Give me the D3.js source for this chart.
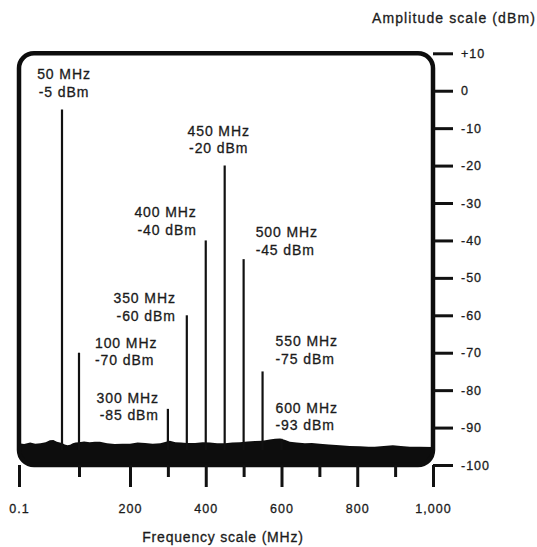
<!DOCTYPE html>
<html lang="en">
<head>
<meta charset="utf-8">
<title>Spectrum analyzer display</title>
<script src="https://d3js.org/d3.v7.min.js"></script>
<style>
  body { margin: 0; background: #fff; }
  text { font-family: "Liberation Sans", Arial, Helvetica, sans-serif; fill: #1b1b1b; stroke: #1b1b1b; stroke-width: 0.3px; }
</style>
</head>
<body>
<script>
// spectral lines: frequency (MHz) and level (dBm)
var lineFreq  = [50, 100, 300, 350, 400, 450, 500, 550, 600];
var lineLevel = [-5, -70, -85, -60, -40, -20, -45, -75, -93];

// noise floor (MHz, dBm)
var noiseFreq  = [0.1, 6, 13, 19, 25, 31, 36, 40, 44, 50, 58, 66, 74, 82, 90, 100, 110, 121, 131, 141, 155, 170, 185, 200,
                  220, 240, 260, 280, 295, 305, 320, 335, 350, 372, 392, 411, 430, 451, 470, 490, 510, 530, 550, 569,
                  583, 596, 610, 622, 640, 662, 680, 701, 725, 754, 780, 807, 830, 846, 870, 894, 915, 939, 965, 1000];
var noiseLevel = [-94.2, -94.4, -94.0, -94.3, -94.2, -93.9, -93.4, -93.3, -93.8, -94.1, -94.5, -94.7, -94.6, -94.2, -94.0, -93.9, -93.7, -93.9, -93.8, -93.8, -94.2, -94.4, -94.3, -94.3,
                  -94.0, -94.1, -94.3, -94.2, -93.8, -93.5, -93.9, -94.0, -94.1, -94.1, -93.9, -94.0, -94.2, -94.2, -94.0, -93.9, -93.7, -93.6, -93.5, -93.2,
                  -93.0, -92.9, -93.3, -93.8, -94.0, -94.2, -94.1, -94.3, -94.5, -94.7, -94.9, -95.0, -95.1, -95.1, -94.9, -94.7, -94.9, -95.1, -95.1, -95.2];

// axis ticks
var majorTicks = [0.1, 200, 400, 600, 800, 1000];
var minorTicks = [100, 300, 500, 700, 900];
var ampTicks   = [10, 0, -10, -20, -30, -40, -50, -60, -70, -80, -90, -100];

// where each line's two-row label sits relative to the line top
var labelLayout = [
  {anchor: "middle", dx: 2,   dy: -30},
  {anchor: "start",  dx: 16,  dy: -5},
  {anchor: "end",    dx: -9,  dy: -6},
  {anchor: "end",    dx: -11, dy: -12},
  {anchor: "end",    dx: -9,  dy: -23},
  {anchor: "middle", dx: -6,  dy: -30},
  {anchor: "start",  dx: 12,  dy: -22},
  {anchor: "start",  dx: 13,  dy: -25},
  {anchor: "start",  dx: -6,  dy: -26}
];

var width = 537, height = 547;

var svg = d3.select("body").append("svg")
    .attr("width", width)
    .attr("height", height);

// the display graticule is not linear below 200 MHz, so use a polylinear scale
var x = d3.scaleLinear()
    .domain([0.1, 50, 100, 200, 1000])
    .range([19, 62, 79, 130, 433]);

var y = d3.scaleLinear()
    .domain([-100, 10])
    .range([465, 53.3]);

var frameX = x(0.1), frameY = y(10),
    frameW = x(1000) - x(0.1), frameH = y(-100) - y(10);

// clip for the noise so it follows the rounded frame
svg.append("clipPath").attr("id", "frameClip")
  .append("rect")
    .attr("x", frameX).attr("y", frameY)
    .attr("width", frameW).attr("height", frameH + 1)
    .attr("rx", 15).attr("ry", 15);

var noise = noiseFreq.map(function(f, i) { return {f: f, v: noiseLevel[i]}; });

svg.append("path")
    .datum(noise)
    .attr("clip-path", "url(#frameClip)")
    .attr("fill", "#0d0d0d")
    .attr("d", d3.area()
        .x(function(d) { return x(d.f); })
        .y0(y(-100) + 2)
        .y1(function(d) { return y(d.v); }));

// frame
svg.append("rect")
    .attr("x", frameX).attr("y", frameY)
    .attr("width", frameW).attr("height", frameH)
    .attr("rx", 15).attr("ry", 15)
    .attr("fill", "none")
    .attr("stroke", "#0d0d0d")
    .attr("stroke-width", 4.5);

// spectral lines
var lines = lineFreq.map(function(f, i) { return {f: f, v: lineLevel[i], lay: labelLayout[i]}; });

svg.selectAll(".spur")
    .data(lines)
    .enter().append("line")
    .attr("class", "spur")
    .attr("x1", function(d) { return x(d.f); })
    .attr("x2", function(d) { return x(d.f); })
    .attr("y1", function(d) { return y(d.v); })
    .attr("y2", y(-96))
    .attr("stroke", "#111")
    .attr("stroke-width", 2.2);

var lab = svg.selectAll(".lab")
    .data(lines)
    .enter().append("text")
    .attr("class", "lab")
    .attr("text-anchor", function(d) { return d.lay.anchor; })
    .attr("font-size", 14)
    .attr("letter-spacing", 0.9);

lab.append("tspan")
    .attr("x", function(d) { return x(d.f) + d.lay.dx; })
    .attr("y", function(d) { return y(d.v) + d.lay.dy; })
    .text(function(d) { return d.f + " MHz"; });

lab.append("tspan")
    .attr("x", function(d) { return x(d.f) + d.lay.dx; })
    .attr("y", function(d) { return y(d.v) + d.lay.dy + 17.5; })
    .text(function(d) { return d.v + " dBm"; });

// frequency axis: long ticks with labels, short ticks between
var xMajor = svg.append("g")
    .attr("transform", "translate(0," + y(-100) + ")")
    .call(d3.axisBottom(x)
        .tickValues(majorTicks)
        .tickSize(22)
        .tickPadding(17)
        .tickFormat(function(d) { return d < 1 ? "0.1" : d3.format(",")(d); }));

var xMinor = svg.append("g")
    .attr("transform", "translate(0," + y(-100) + ")")
    .call(d3.axisBottom(x)
        .tickValues(minorTicks)
        .tickSize(12)
        .tickFormat(""));

// amplitude axis on the right
var yAxis = svg.append("g")
    .attr("transform", "translate(" + x(1000) + ",0)")
    .call(d3.axisRight(y)
        .tickValues(ampTicks)
        .tickSize(20)
        .tickPadding(8)
        .tickFormat(function(d) { return d > 0 ? "+" + d : d; }));

[xMajor, xMinor, yAxis].forEach(function(g) {
  g.select(".domain").remove();
  g.selectAll(".tick line").attr("stroke", "#111").attr("stroke-width", 3);
  g.selectAll(".tick text")
    .attr("fill", "#1b1b1b")
    .attr("font-size", 12.5)
    .attr("letter-spacing", 1)
    .style("font-family", "'Liberation Sans', Arial, sans-serif");
});

// axis titles
svg.append("text")
    .attr("x", 372).attr("y", 23)
    .attr("font-size", 14)
    .attr("letter-spacing", 1.1)
    .text("Amplitude scale (dBm)");

svg.append("text")
    .attr("x", 223).attr("y", 541.5)
    .attr("text-anchor", "middle")
    .attr("font-size", 14)
    .attr("letter-spacing", 0.8)
    .text("Frequency scale (MHz)");
</script>
</body>
</html>
